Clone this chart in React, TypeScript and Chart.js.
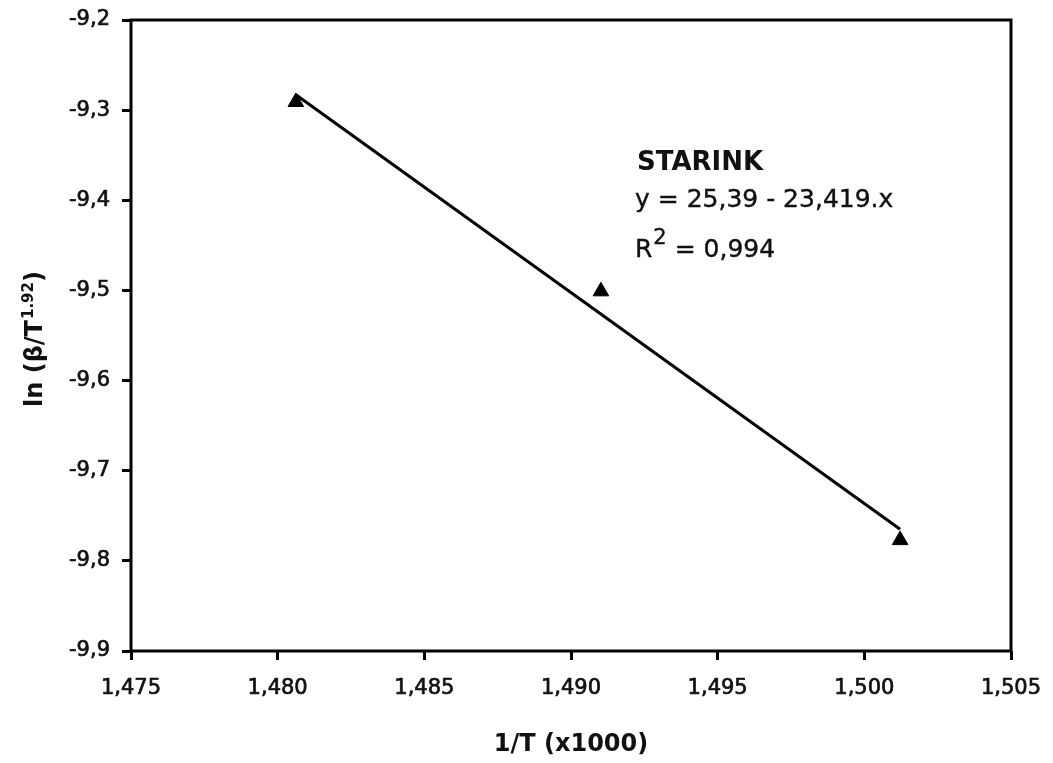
import React, { useEffect, useRef } from "react";
import { Chart, registerables } from "chart.js";

Chart.register(...registerables);

const xTicks = [1.475, 1.48, 1.485, 1.49, 1.495, 1.5, 1.505];
const yTicks = [-9.9, -9.8, -9.7, -9.6, -9.5, -9.4, -9.3, -9.2];

const pointX = [1.48062, 1.49102, 1.50122];
const pointY = [-9.291, -9.501, -9.777];

const fitX = [1.48062, 1.50122];
const fitY = [-9.283, -9.765];

const annotTitle = "STARINK";
const annotEquation = "y = 25,39 - 23,419.x";
const annotR = "R";
const annotRSup = "2";
const annotRValue = " = 0,994";

const xTitle = "1/T (x1000)";
const yTitleParts = ["ln (\u03B2/T", "1.92", ")"];

const FONT = "'DejaVu Sans', 'Liberation Sans', Arial, sans-serif";

const fmt = (v: number, d: number) => v.toFixed(d).replace(".", ",");

const decorPlugin = {
  id: "decor",
  afterDraw(chart: any) {
    const { ctx, chartArea } = chart;
    const { left, right, top, bottom } = chartArea;
    ctx.save();
    // frame
    ctx.strokeStyle = "#000";
    ctx.lineWidth = 3;
    ctx.strokeRect(left, top, right - left, bottom - top);

    ctx.fillStyle = "#111";
    ctx.strokeStyle = "#111";
    ctx.textBaseline = "alphabetic";
    ctx.textAlign = "left";

    // annotation
    ctx.font = `bold 26px ${FONT}`;
    ctx.fillText(annotTitle, 637, 170);
    ctx.font = `25px ${FONT}`;
    ctx.lineWidth = 0.4;
    ctx.fillText(annotEquation, 635, 207);
    ctx.strokeText(annotEquation, 635, 207);
    let ax = 635;
    ctx.fillText(annotR, ax, 257);
    ctx.strokeText(annotR, ax, 257);
    ax += ctx.measureText(annotR).width;
    ctx.font = `21px ${FONT}`;
    ctx.fillText(annotRSup, ax + 1, 244);
    ctx.strokeText(annotRSup, ax + 1, 244);
    ax += ctx.measureText(annotRSup).width + 1;
    ctx.font = `25px ${FONT}`;
    ctx.fillText(annotRValue, ax, 257);
    ctx.strokeText(annotRValue, ax, 257);

    // x title
    ctx.font = `bold 24px ${FONT}`;
    ctx.textAlign = "center";
    ctx.fillText(xTitle, 571, 751);

    // y title (rotated with superscript)
    ctx.textAlign = "left";
    const mainFont = `bold 24px ${FONT}`;
    const supFont = `bold 15px ${FONT}`;
    ctx.font = mainFont;
    const w0 = ctx.measureText(yTitleParts[0]).width;
    const w2 = ctx.measureText(yTitleParts[2]).width;
    ctx.font = supFont;
    const w1 = ctx.measureText(yTitleParts[1]).width;
    const total = w0 + w1 + w2 + 1;
    ctx.translate(42, 339 + total / 2);
    ctx.rotate(-Math.PI / 2);
    ctx.font = mainFont;
    ctx.fillText(yTitleParts[0], 0, 0);
    ctx.font = supFont;
    ctx.fillText(yTitleParts[1], w0 + 1, -9);
    ctx.font = mainFont;
    ctx.fillText(yTitleParts[2], w0 + w1 + 1, 0);
    ctx.restore();
  },
};

export default function App() {
  const ref = useRef<HTMLCanvasElement | null>(null);

  useEffect(() => {
    if (!ref.current) return;
    const chart = new Chart(ref.current, {
      type: "scatter",
      data: {
        datasets: [
          {
            label: "fit",
            data: fitX.map((x, i) => ({ x, y: fitY[i] })),
            showLine: true,
            borderColor: "#000",
            borderWidth: 3,
            pointRadius: 0,
            pointHoverRadius: 0,
            order: 2,
          },
          {
            label: "data",
            data: pointX.map((x, i) => ({ x, y: pointY[i] })),
            showLine: false,
            pointStyle: "triangle",
            pointRadius: 9,
            backgroundColor: "#000",
            borderColor: "#000",
            borderWidth: 1,
            order: 1,
          },
        ],
      },
      options: {
        responsive: false,
        animation: false,
        layout: { padding: { top: 20, right: 42, left: 0, bottom: 0 } },
        plugins: {
          legend: { display: false },
          tooltip: { enabled: false },
        },
        scales: {
          x: {
            type: "linear",
            min: 1.475,
            max: 1.505,
            afterBuildTicks: (scale: any) => {
              scale.ticks = xTicks.map((v) => ({ value: v }));
            },
            afterFit: (scale: any) => {
              scale.height = 112;
              scale.paddingLeft = 0;
              scale.paddingRight = 0;
            },
            border: { display: false },
            grid: {
              drawOnChartArea: false,
              drawTicks: true,
              tickLength: 9,
              tickWidth: 3,
              tickColor: "#000",
            },
            ticks: {
              padding: 16,
              color: "#111",
              textStrokeColor: "#111",
              textStrokeWidth: 0.7,
              font: { family: FONT, size: 21 },
              maxRotation: 0,
              autoSkip: false,
              callback: (v: any) => fmt(Number(v), 3),
            },
          },
          y: {
            type: "linear",
            min: -9.9,
            max: -9.2,
            afterBuildTicks: (scale: any) => {
              scale.ticks = yTicks.map((v) => ({ value: v }));
            },
            afterFit: (scale: any) => {
              scale.width = 131;
              scale.paddingTop = 0;
              scale.paddingBottom = 0;
            },
            border: { display: false },
            grid: {
              drawOnChartArea: false,
              drawTicks: true,
              tickLength: 9,
              tickWidth: 3,
              tickColor: "#000",
            },
            ticks: {
              padding: 12,
              color: "#111",
              textStrokeColor: "#111",
              textStrokeWidth: 0.7,
              font: { family: FONT, size: 21 },
              autoSkip: false,
              callback: (v: any) => fmt(Number(v), 1),
            },
          },
        },
      },
      plugins: [decorPlugin],
    });
    return () => chart.destroy();
  }, []);

  return (
    <div
      style={{
        position: "fixed",
        left: 0,
        top: 0,
        width: 1053,
        height: 763,
        background: "#fff",
      }}
    >
      <canvas ref={ref} width={1053} height={763} />
    </div>
  );
}
